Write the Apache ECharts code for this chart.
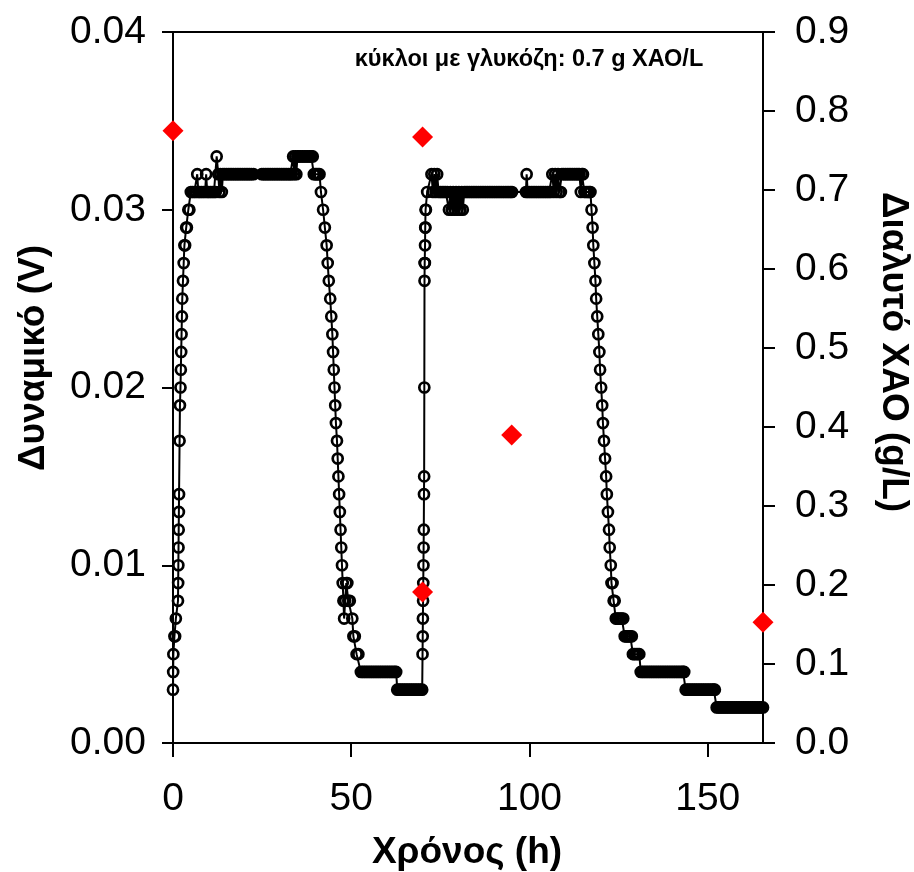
<!DOCTYPE html>
<html><head><meta charset="utf-8">
<script src="https://cdn.jsdelivr.net/npm/echarts@6/dist/echarts.min.js"></script>
<style>html,body{margin:0;padding:0;background:#fff}#c{width:914px;height:872px}</style>
</head><body><div id="c"></div>
<script>
// ---- data: [time (h), potential (V)] ----
const riseOne = [[0,.003],[0.05,.004],[0.1,.005],[0.4,.006],[0.6,.006],[0.8,.007],[1.4,.008],[1.45,.009],[1.5,.010],[1.55,.011],[1.6,.012],[1.65,.013],[1.7,.014],[1.85,.017],[1.95,.019],[2.1,.020],[2.2,.021],[2.3,.022],[2.4,.023],[2.5,.024],[2.6,.025],[2.8,.026],[3.0,.027],[3.2,.028],[3.4,.028],[3.7,.029],[3.9,.029],[4.3,.030],[4.6,.030]];
const plateauOne = [[5.0,.031],[5.5,.031],[6.0,.031],[6.5,.031],[6.8,.032],[7.1,.031],[7.5,.031],[8.0,.031],[8.5,.031],[9.0,.031],[9.3,.032],[9.6,.031],[10.0,.031],[10.5,.031],[11.0,.031],[11.5,.031],[12.0,.031],[12.25,.033],[12.7,.032],[13.0,.031],[13.3,.032],[13.7,.031],
 [14.0,.032],[14.5,.032],[15.0,.032],[15.5,.032],[16.0,.032],[16.5,.032],[17.0,.032],[17.5,.032],[18.0,.032],[18.5,.032],[19.0,.032],[19.5,.032],[20.0,.032],[20.5,.032],[21.0,.032],[21.5,.032],[22.0,.032],[22.6,.032],
 [24.9,.032],[25.4,.032],[25.9,.032],[26.4,.032],[26.9,.032],[27.4,.032],[27.9,.032],[28.4,.032],[28.9,.032],[29.4,.032],[29.9,.032],[30.4,.032],[30.9,.032],[31.4,.032],[31.9,.032],[32.4,.032],[32.9,.032],[33.3,.032],
 [33.7,.033],[34.0,.032],[34.3,.033],[34.6,.032],[34.9,.033],[35.3,.033],[35.8,.033],[36.3,.033],[36.8,.033],[37.3,.033],[37.8,.033],[38.3,.033],[38.8,.033],[39.2,.033],
 [39.5,.032],[39.9,.032],[40.3,.032],[40.7,.032],[41.1,.032]];
const fallOne = [[41.5,.031],[42.1,.030],[42.6,.029],[43.1,.028],[43.4,.027],[43.7,.026],[44.1,.025],[44.4,.024],[44.7,.023],[44.9,.022],[45.1,.021],[45.3,.020],[45.5,.019],[45.7,.018],[46.0,.017],[46.2,.016],[46.4,.015],[46.6,.014],[46.8,.013],[47.0,.012],[47.2,.011],[47.4,.010],[47.6,.009],[47.8,.008],[48.0,.007],[48.3,.008],[48.6,.009],[48.9,.009],[49.2,.008],[49.6,.008],[50.3,.007],[50.6,.006],[51.0,.006],[51.5,.005],[52.0,.005]];
const baseOne = [[52.7,.004],[53.2,.004],[53.7,.004],[54.2,.004],[54.7,.004],[55.2,.004],[55.7,.004],[56.2,.004],[56.7,.004],[57.2,.004],[57.7,.004],[58.2,.004],[58.7,.004],[59.2,.004],[59.7,.004],[60.2,.004],[60.7,.004],[61.2,.004],[61.7,.004],[62.2,.004],[62.6,.004],
 [62.9,.003],[63.4,.003],[63.9,.003],[64.4,.003],[64.9,.003],[65.4,.003],[65.9,.003],[66.4,.003],[66.9,.003],[67.4,.003],[67.9,.003],[68.4,.003],[68.9,.003],[69.4,.003],[69.9,.003]];
const riseTwo = [[70.0,.005],[70.05,.006],[70.1,.007],[70.15,.008],[70.2,.009],[70.25,.010],[70.3,.011],[70.35,.012],[70.4,.014],[70.45,.015],[70.5,.020],[70.55,.026],[70.6,.027],[70.65,.027],[70.7,.028],[70.75,.029],[70.8,.029],[70.85,.030],[70.95,.030],[71.3,.031],
 [72.5,.032],[72.9,.031],[73.3,.032],[73.7,.031],[74.1,.032]];
const plateauTwo = [[74.5,.031],[75.0,.031],[75.5,.031],[76.0,.031],[76.5,.031],[77.0,.031],
 [77.4,.030],[77.8,.031],[78.2,.030],[78.6,.031],[79.0,.030],[79.4,.031],[79.8,.030],[80.2,.031],[80.6,.030],[81.0,.031],[81.3,.030],
 [81.7,.031],[82.2,.031],[82.7,.031],[83.2,.031],[83.7,.031],[84.2,.031],[84.7,.031],[85.2,.031],[85.7,.031],[86.2,.031],[86.7,.031],[87.2,.031],[87.7,.031],[88.2,.031],[88.7,.031],[89.2,.031],[89.7,.031],[90.2,.031],[90.7,.031],[91.2,.031],[91.7,.031],[92.2,.031],[92.7,.031],[93.2,.031],[93.7,.031],[94.2,.031],[94.7,.031],[95.1,.031],
 [99.0,.031],[99.2,.032],[99.5,.031],[100.0,.031],[100.5,.031],[101.0,.031],[101.5,.031],[102.0,.031],[102.5,.031],[103.0,.031],[103.5,.031],[104.0,.031],[104.5,.031],[105.0,.031],[105.5,.031],[106.0,.031],
 [106.4,.032],[106.8,.031],[107.2,.032],[107.6,.031],[108.0,.032],[108.4,.031],[108.8,.031],[109.1,.032],[109.6,.032],[110.1,.032],[110.6,.032],[111.1,.032],[111.6,.032],[112.1,.032],[112.6,.032],[113.1,.032],[113.6,.032],[114.0,.032],
 [114.4,.031],[114.7,.032],[115.0,.032],[115.4,.031],[115.9,.031],[116.4,.031],[116.8,.031],[117.1,.031]];
const fallTwo = [[117.4,.030],[117.7,.029],[117.9,.028],[118.2,.027],[118.5,.026],[118.7,.025],[119.0,.024],[119.3,.023],[119.6,.022],[119.8,.021],[120.1,.020],[120.4,.019],[120.6,.018],[120.9,.017],[121.2,.016],[121.5,.015],[121.7,.014],[122.0,.013],[122.3,.012],[122.5,.011],[122.8,.010],[123.0,.009],[123.3,.009],[123.6,.008],[123.9,.008]];
const baseTwo = [[124.2,.007],[124.6,.007],[125.0,.007],[125.5,.007],[125.9,.007],[126.3,.007],
 [126.7,.006],[127.1,.006],[127.5,.006],[127.9,.006],[128.3,.006],[128.7,.006],
 [129.0,.005],[129.4,.005],[129.9,.005],[130.4,.005],[130.8,.005],
 [131.2,.004],[131.7,.004],[132.2,.004],[132.7,.004],[133.2,.004],[133.7,.004],[134.2,.004],[134.7,.004],[135.2,.004],[135.7,.004],[136.2,.004],[136.7,.004],[137.2,.004],[137.7,.004],[138.2,.004],[138.7,.004],[139.2,.004],[139.7,.004],[140.2,.004],[140.7,.004],[141.2,.004],[141.7,.004],[142.2,.004],[142.7,.004],[143.1,.004],[143.4,.004],
 [143.8,.003],[144.3,.003],[144.8,.003],[145.3,.003],[145.8,.003],[146.3,.003],[146.8,.003],[147.3,.003],[147.8,.003],[148.3,.003],[148.8,.003],[149.3,.003],[149.8,.003],[150.3,.003],[150.8,.003],[151.3,.003],[151.7,.003],[152.0,.003],
 [152.5,.002],[153.0,.002],[153.5,.002],[154.0,.002],[154.5,.002],[155.0,.002],[155.5,.002],[156.0,.002],[156.5,.002],[157.0,.002],[157.5,.002],[158.0,.002],[158.5,.002],[159.0,.002],[159.5,.002],[160.0,.002],[160.5,.002],[161.0,.002],[161.5,.002],[162.0,.002],[162.5,.002],[163.0,.002],[163.5,.002],[164.0,.002],[164.5,.002],[165.0,.002],[165.5,.002]];
// dissolved COD: [time (h), g/L]
const codData = [[0,0.775],[70,0.767],[70,0.191],[95,0.39],[165.5,0.153]];
const xTicks = [0,50,100,150];

const potential = [].concat(riseOne, plateauOne, fallOne, baseOne, riseTwo, plateauTwo, fallTwo, baseTwo);

const FONT = '"Liberation Sans", Arial, sans-serif';
const chart = echarts.init(document.getElementById('c'), null, {renderer:'canvas'});
const axisCommon = {
  axisLine:{show:true, onZero:false, lineStyle:{color:'#000', width:2}},
  axisTick:{show:true, inside:false, length:11, lineStyle:{color:'#000', width:2}},
  splitLine:{show:false},
};
chart.setOption({
  animation:false,
  backgroundColor:'#fff',
  grid:{left:173, right:151, top:32, bottom:129, show:true, borderColor:'#000', borderWidth:2, backgroundColor:'transparent'},
  xAxis:{type:'value', min:0, max:165.5, ...axisCommon,
    axisTick:{show:true, length:14, customValues:xTicks, lineStyle:{color:'#000', width:2}},
    axisLabel:{customValues:xTicks, margin:37, fontSize:39, color:'#000', fontFamily:FONT}},
  yAxis:[
    {type:'value', min:0, max:0.04, interval:0.01, position:'left', ...axisCommon,
      axisLabel:{margin:27, fontSize:39, color:'#000', fontFamily:FONT, formatter:v=>v.toFixed(2)}},
    {type:'value', min:0, max:0.9, interval:0.1, position:'right', ...axisCommon,
      axisTick:{show:true, length:12, lineStyle:{color:'#000', width:2}},
      axisLabel:{margin:32, fontSize:39, color:'#000', fontFamily:FONT, formatter:v=>v.toFixed(1)}}
  ],
  series:[
    {type:'line', data:potential, yAxisIndex:0, clip:false, symbol:'circle', symbolSize:10,
      itemStyle:{color:'rgba(0,0,0,0)', borderColor:'#000', borderWidth:2.7},
      lineStyle:{color:'#000', width:2}, z:2},
    {type:'scatter', data:codData, yAxisIndex:1, clip:false, symbol:'diamond', symbolSize:21,
      itemStyle:{color:'#ff0000', opacity:1}, z:5}
  ],
  graphic:[
    {type:'text', x:529, y:60, z:10, style:{text:'κύκλοι με γλυκόζη: 0.7 g ΧΑΟ/L', font:'bold 23.5px '+FONT, fill:'#000', textAlign:'center', textVerticalAlign:'middle'}},
    {type:'text', x:34, y:358, rotation:Math.PI/2, z:10, style:{text:'Δυναμικό (V)', font:'bold 37px '+FONT, fill:'#000', textAlign:'center', textVerticalAlign:'middle'}},
    {type:'text', x:893, y:352, rotation:-Math.PI/2, z:10, style:{text:'Διαλυτό ΧΑΟ (g/L)', font:'bold 37px '+FONT, fill:'#000', textAlign:'center', textVerticalAlign:'middle'}},
    {type:'text', x:467, y:853, z:10, style:{text:'Χρόνος (h)', font:'bold 37px '+FONT, fill:'#000', textAlign:'center', textVerticalAlign:'middle'}}
  ]
});
</script></body></html>
